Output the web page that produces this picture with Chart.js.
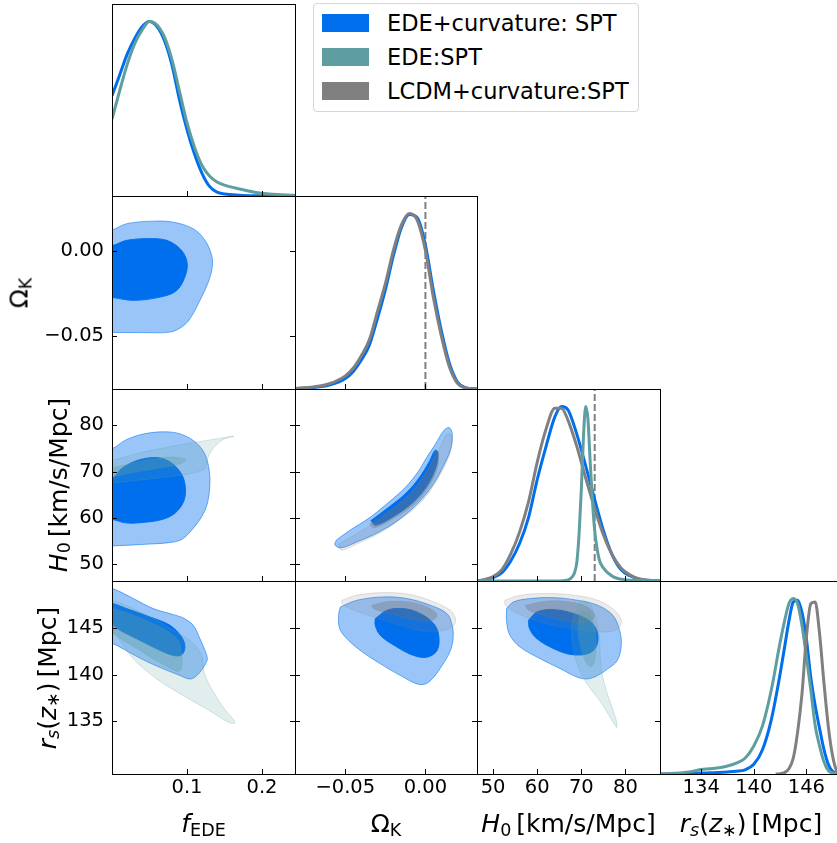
<!DOCTYPE html>
<html>
<head>
<meta charset="utf-8">
<script src="https://cdn.jsdelivr.net/npm/chart.js@4.4.1/dist/chart.umd.min.js"></script>
<style>
  html, body { margin: 0; padding: 0; background: #fff; }
  #fig { position: relative; width: 837px; height: 843px; overflow: hidden; font-family: "DejaVu Sans", sans-serif; color: #000; }
  #fig canvas { position: absolute; }
  .lab { position: absolute; font-size: 25px; line-height: 25px; white-space: nowrap; }
  .lab.x { transform: translateX(-50%); }
  .lab.y { transform: translate(-50%, -50%) rotate(-90deg); }
  .lab i { font-style: italic; }
  .lab sub { font-size: 0.7em; vertical-align: -0.22em; line-height: 0; }
  #legend { position: absolute; left: 313px; top: 3px; width: 326px; height: 109px; border: 1px solid #d6d6d6; border-radius: 4px; box-sizing: border-box; padding-top: 2px; font-size: 22.5px; background: #fff; }
  #legend .entry { height: 34px; display: flex; align-items: center; white-space: nowrap; }
  #legend .patch { display: inline-block; width: 47px; height: 18px; margin-left: 8px; margin-right: 18px; }
</style>
</head>
<body>
<div id="fig"></div>
<script>
// axis ranges and ticks
const FEDE_RANGE = [0, 0.244];
const OMK_RANGE = [-0.0814, 0.0322];
const H0_RANGE = [46.35, 87.85];
const RS_RANGE = [129.3, 150.06];
const PDF_RANGE = [0, 1.1];

const FEDE_TICKS = [0.1, 0.2];
const FEDE_TICK_LABELS = ['0.1', '0.2'];
const OMK_TICKS = [-0.05, 0];
const OMK_TICK_LABELS = ['\u22120.05', '0.00'];
const H0_TICKS = [50, 60, 70, 80];
const H0_TICK_LABELS = ['50', '60', '70', '80'];
const RS_X_TICKS = [134, 140, 146];
const RS_X_TICK_LABELS = ['134', '140', '146'];
const RS_Y_TICKS = [135, 140, 145];
const RS_Y_TICK_LABELS = ['135', '140', '145'];

const SERIES = ['EDE+curvature: SPT', 'EDE:SPT', 'LCDM+curvature:SPT'];
const SERIES_COLORS = ['#006FED', '#5F9EA0', '#808080'];

// reference values marked with dashed lines
const OMK_FLAT = 0;
const H0_SH0ES = 73.04;

// 1D marginals (normalised to peak 1)
const FEDE_GRID = [0, 0.01, 0.02, 0.03, 0.04, 0.05, 0.06, 0.07, 0.08, 0.09, 0.10, 0.11, 0.12, 0.13, 0.14, 0.15, 0.17, 0.19, 0.21, 0.244];
const FEDE_EDE_CURV = [0.574, 0.69, 0.81, 0.90, 0.97, 1.0, 0.97, 0.89, 0.75, 0.55, 0.38, 0.24, 0.13, 0.055, 0.022, 0.012, 0.005, 0.002, 0.001, 0];
const FEDE_EDE = [0.44, 0.60, 0.75, 0.87, 0.95, 1.0, 0.98, 0.91, 0.78, 0.60, 0.42, 0.28, 0.175, 0.115, 0.08, 0.062, 0.04, 0.022, 0.012, 0.004];

const OMK_GRID = [-0.0814, -0.07, -0.06, -0.05, -0.045, -0.04, -0.035, -0.03, -0.025, -0.02, -0.015, -0.01, -0.005, 0, 0.005, 0.01, 0.015, 0.02, 0.025, 0.0322];
const OMK_EDE_CURV = [0.002, 0.008, 0.022, 0.06, 0.1, 0.165, 0.25, 0.40, 0.565, 0.76, 0.92, 0.995, 0.975, 0.82, 0.56, 0.33, 0.145, 0.04, 0.008, 0];
const OMK_LCDM_CURV = [0.003, 0.012, 0.03, 0.075, 0.12, 0.19, 0.28, 0.44, 0.60, 0.79, 0.935, 1.0, 0.96, 0.79, 0.52, 0.30, 0.125, 0.032, 0.006, 0];

const H0_GRID = [46.35, 48, 50, 52, 54, 56, 58, 60, 62, 64, 65.5, 67, 69, 71, 73, 75, 77, 79, 81, 83, 85, 87.85];
const H0_EDE_CURV = [0, 0.006, 0.02, 0.048, 0.115, 0.215, 0.36, 0.58, 0.77, 0.94, 1.0, 0.98, 0.84, 0.66, 0.47, 0.29, 0.15, 0.065, 0.03, 0.012, 0.004, 0];
const H0_LCDM_CURV = [0, 0.008, 0.025, 0.065, 0.155, 0.28, 0.45, 0.68, 0.87, 0.99, 0.99, 0.92, 0.77, 0.59, 0.42, 0.265, 0.15, 0.075, 0.035, 0.013, 0.004, 0];
const H0_EDE_GRID = [46.35, 64, 66, 67, 68, 68.5, 69, 69.5, 70, 70.5, 71, 71.5, 72, 72.5, 73, 74, 75, 77, 80, 87.85];
const H0_EDE = [0, 0, 0.002, 0.006, 0.025, 0.05, 0.11, 0.27, 0.52, 0.83, 1.0, 0.93, 0.69, 0.47, 0.3, 0.13, 0.075, 0.028, 0.007, 0];

const RS_GRID = [129.3, 131, 133, 134, 135, 136, 137, 138, 139, 140, 141, 142, 143, 143.5, 144, 144.5, 145, 145.5, 146, 146.5, 147, 147.5, 148, 148.5, 149, 150.06];
const RS_EDE_CURV = [0, 0.001, 0.004, 0.005, 0.007, 0.009, 0.012, 0.016, 0.024, 0.055, 0.14, 0.31, 0.57, 0.72, 0.87, 0.98, 0.99, 0.92, 0.77, 0.55, 0.39, 0.26, 0.14, 0.055, 0.015, 0];
const RS_EDE = [0, 0.004, 0.015, 0.026, 0.03, 0.036, 0.046, 0.062, 0.09, 0.16, 0.276, 0.48, 0.75, 0.87, 0.97, 1.0, 0.97, 0.845, 0.67, 0.48, 0.276, 0.16, 0.07, 0.02, 0.006, 0];
const RS_LCDM_GRID = [142.5, 143, 143.5, 144, 144.5, 145, 145.5, 146, 146.5, 147, 147.5, 148, 148.5, 149, 149.5, 150.06];
const RS_LCDM_CURV = [0, 0.002, 0.008, 0.03, 0.09, 0.24, 0.46, 0.78, 0.97, 0.98, 0.8, 0.52, 0.27, 0.1, 0.015, 0];

// 2D contours (95% and 68%), [x, y] in parameter units
const FEDE_OMK_EC_95 = [[-0.01, 0.0124], [0.001, 0.0124], [0.0196, 0.0159], [0.0551, 0.0174], [0.0817, 0.0168], [0.1084, 0.0129], [0.124, 0.0061], [0.1329, -0.0028], [0.1337, -0.0096], [0.1284, -0.0185], [0.1173, -0.0292], [0.104, -0.040], [0.0929, -0.0449], [0.0773, -0.0479], [0.0373, -0.0482], [0.001, -0.0481], [-0.01, -0.0481]];
const FEDE_OMK_EC_68 = [[-0.01, 0.0031], [0.001, 0.0031], [0.0196, 0.0061], [0.0507, 0.0071], [0.0729, 0.0061], [0.0907, 0.0012], [0.0996, -0.0057], [0.0987, -0.0135], [0.0863, -0.0234], [0.064, -0.0273], [0.0284, -0.0292], [0.001, -0.0276], [-0.01, -0.0276]];

const FEDE_H0_EC_95 = [[-0.01, 75.0], [0.001, 75.0], [0.0178, 76.79], [0.0444, 78.21], [0.0756, 78.57], [0.0956, 77.86], [0.1133, 76.07], [0.1244, 73.57], [0.1298, 70.0], [0.1302, 66.43], [0.1267, 62.86], [0.12, 60.36], [0.1089, 57.86], [0.0933, 55.36], [0.0756, 54.64], [0.0444, 54.29], [0.001, 53.93], [-0.01, 53.93]];
const FEDE_H0_EC_68 = [[-0.01, 68.57], [0.001, 68.57], [0.0133, 70.71], [0.0356, 72.5], [0.0622, 73.0], [0.08, 71.79], [0.0933, 69.29], [0.0978, 66.43], [0.0956, 63.57], [0.0844, 61.07], [0.0667, 59.64], [0.0356, 58.93], [0.0178, 58.93], [0.001, 59.64], [-0.01, 59.64]];
const FEDE_H0_E_95 = [[-0.01, 72.5], [0.001, 72.5], [0.0444, 74.29], [0.0889, 75.71], [0.1156, 76.43], [0.1622, 77.64], [0.1467, 76.79], [0.1333, 74.64], [0.1267, 72.5], [0.1244, 70.71], [0.1067, 69.64], [0.0667, 68.71], [0.0267, 68.0], [0.001, 67.5], [-0.01, 67.5]];
const FEDE_H0_E_68 = [[-0.01, 70.86], [0.001, 70.86], [0.0356, 72.14], [0.0667, 73.0], [0.0889, 73.07], [0.0987, 72.5], [0.0889, 71.57], [0.0667, 70.86], [0.0356, 70.0], [0.001, 68.93], [-0.01, 68.93]];

const FEDE_RS_EC_95 = [[-0.01, 149.24], [0.001, 149.24], [0.0284, 148.17], [0.0551, 147.09], [0.0818, 146.44], [0.0951, 146.08], [0.1084, 145.29], [0.1173, 143.85], [0.124, 142.59], [0.1271, 141.69], [0.124, 141.04], [0.1173, 140.25], [0.1084, 139.60], [0.1018, 139.53], [0.0907, 139.89], [0.0684, 140.61], [0.0462, 141.40], [0.024, 142.34], [0.001, 143.31], [-0.01, 143.31]];
const FEDE_RS_EC_68 = [[-0.01, 147.63], [0.001, 147.63], [0.0196, 147.09], [0.0507, 146.19], [0.0773, 145.29], [0.0929, 144.03], [0.0973, 142.95], [0.0929, 142.12], [0.0818, 142.05], [0.0596, 142.77], [0.0329, 143.85], [0.0107, 144.75], [0.001, 145.29], [-0.01, 145.29]];
const FEDE_RS_E_95 = [[-0.01, 147.99], [0.001, 147.99], [0.0284, 147.09], [0.0596, 145.83], [0.0862, 144.57], [0.1062, 143.49], [0.1196, 142.05], [0.1227, 140.25], [0.1329, 138.45], [0.1484, 136.47], [0.164, 134.86], [0.1573, 134.78], [0.1262, 136.29], [0.0951, 137.73], [0.0596, 139.53], [0.0284, 141.69], [0.001, 144.57], [-0.01, 144.57]];
const FEDE_RS_E_68 = [[-0.01, 147.09], [0.001, 147.09], [0.0284, 146.37], [0.0596, 145.29], [0.0818, 144.21], [0.0907, 143.31], [0.0907, 140.43], [0.064, 141.26], [0.0373, 142.59], [0.0151, 143.67], [0.001, 144.39], [-0.01, 144.39]];

const OMK_H0_EC_95 = [[-0.0556, 55.2], [-0.0472, 57.3], [-0.0350, 60.0], [-0.0228, 63.4], [-0.0125, 66.6], [-0.0045, 70.0], [0.0005, 72.9], [0.0062, 75.9], [0.0115, 78.9], [0.0150, 79.5], [0.0168, 78.0], [0.0158, 74.9], [0.0118, 71.6], [0.0048, 67.2], [-0.0040, 63.4], [-0.0165, 59.6], [-0.0292, 56.9], [-0.0420, 54.9], [-0.0528, 53.5], [-0.0565, 54.2]];
const OMK_H0_EC_68 = [[-0.0340, 59.4], [-0.0225, 62.4], [-0.0122, 65.3], [-0.0040, 68.6], [0.0025, 72.2], [0.0060, 74.6], [0.0078, 74.2], [0.0068, 71.2], [0.0015, 67.2], [-0.0070, 63.6], [-0.0185, 60.6], [-0.0310, 58.4]];
const OMK_H0_LC_95 = [[-0.0540, 54.3], [-0.0432, 56.5], [-0.0306, 59.2], [-0.0180, 62.6], [-0.0078, 66.0], [0.0005, 69.8], [0.0068, 73.6], [0.0112, 76.7], [0.0135, 78.1], [0.0160, 77.9], [0.0162, 75.1], [0.0122, 71.3], [0.0050, 66.9], [-0.0035, 63.1], [-0.0160, 59.6], [-0.0286, 56.7], [-0.0412, 54.6], [-0.0522, 53.0]];
const OMK_H0_LC_68 = [[-0.0350, 58.7], [-0.0225, 61.6], [-0.0110, 64.6], [-0.0028, 68.0], [0.0038, 71.9], [0.0066, 74.5], [0.0082, 74.0], [0.0074, 70.6], [0.0018, 66.6], [-0.0065, 63.1], [-0.0192, 60.0], [-0.0318, 57.8]];

const OMK_RS_EC_95 = [[-0.0531, 147.27], [-0.0427, 147.99], [-0.026, 148.35], [-0.0115, 148.17], [0.0031, 147.45], [0.0135, 146.55], [0.0167, 145.29], [0.0173, 143.85], [0.0152, 142.41], [0.0104, 140.97], [0.0052, 139.71], [0.0, 138.99], [-0.0052, 138.99], [-0.0156, 139.89], [-0.0281, 141.15], [-0.0406, 142.59], [-0.049, 143.85], [-0.0535, 144.93], [-0.0542, 146.37]];
const OMK_RS_EC_68 = [[-0.0313, 146.01], [-0.024, 146.91], [-0.0135, 147.09], [-0.0031, 146.55], [0.0052, 145.47], [0.0083, 144.21], [0.0073, 142.59], [0.001, 141.87], [-0.0073, 142.05], [-0.0177, 142.95], [-0.0281, 144.21], [-0.0313, 145.29]];
const OMK_RS_LC_95 = [[-0.0521, 147.99], [-0.0427, 148.53], [-0.026, 148.81], [-0.0094, 148.6], [0.0052, 147.81], [0.0156, 146.91], [0.0188, 146.01], [0.0177, 145.29], [0.0115, 144.75], [-0.001, 144.64], [-0.0156, 145.29], [-0.0323, 146.19], [-0.0469, 147.09], [-0.0521, 147.63]];
const OMK_RS_LC_68 = [[-0.0333, 147.45], [-0.0219, 147.88], [-0.0073, 147.73], [0.0031, 147.09], [0.0073, 146.37], [0.0042, 145.83], [-0.0052, 145.83], [-0.0177, 146.37], [-0.0302, 146.91], [-0.0333, 147.27]];

const H0_RS_EC_95 = [[53.06, 147.09], [54.59, 147.81], [58.42, 148.17], [63.77, 148.27], [69.13, 147.99], [73.72, 147.45], [77.16, 146.37], [78.69, 144.75], [79.07, 143.13], [78.16, 141.51], [76.01, 140.61], [73.72, 139.89], [71.42, 139.53], [69.13, 139.71], [65.3, 140.61], [60.71, 141.69], [56.12, 142.95], [53.83, 144.21], [53.06, 145.65]];
const H0_RS_EC_68 = [[58.03, 145.83], [59.95, 146.73], [63.77, 146.98], [68.36, 146.55], [72.19, 145.65], [73.72, 144.39], [73.34, 142.95], [71.42, 142.23], [67.6, 142.16], [63.77, 142.77], [59.95, 143.85], [58.26, 144.93]];
const H0_RS_LC_95 = [[52.68, 147.99], [56.12, 148.53], [62.24, 148.71], [68.36, 148.53], [73.72, 147.99], [77.54, 146.91], [79.07, 145.83], [78.31, 144.93], [75.25, 144.57], [69.89, 144.75], [63.77, 145.29], [58.42, 146.01], [54.21, 146.91], [52.68, 147.55]];
const H0_RS_LC_68 = [[57.27, 147.45], [62.24, 147.91], [67.6, 147.81], [71.42, 147.27], [72.95, 146.37], [71.81, 145.65], [67.6, 145.65], [62.24, 146.26], [58.03, 146.91]];
const H0_RS_E_95 = [[69.84, 147.88], [67.94, 145.65], [68.31, 142.41], [70.59, 139.54], [74.42, 137.02], [77.46, 134.69], [78.08, 134.32], [77.85, 135.23], [75.56, 138.46], [74.42, 140.98], [74.03, 144.21], [72.52, 147.09], [70.98, 147.88]];
const H0_RS_E_68 = [[69.89, 146.73], [71.81, 146.55], [72.95, 145.11], [73.34, 142.95], [72.95, 141.33], [72.19, 140.86], [71.04, 141.33], [69.89, 142.95], [69.28, 145.11]];

// page layout (px)
const X_EDGES = [112, 295, 477, 660, 842];
const Y_EDGES = [4, 196, 389, 581, 774];
const Y_LABEL_W = 112;
const X_LABEL_H = 68;
const TICK_LEN = 5;
const TICK_FONT = 19.5;

const PARAMS = [
  {range: FEDE_RANGE, xTicks: FEDE_TICKS, xLabels: FEDE_TICK_LABELS},
  {range: OMK_RANGE, xTicks: OMK_TICKS, xLabels: OMK_TICK_LABELS, yTicks: OMK_TICKS, yLabels: OMK_TICK_LABELS},
  {range: H0_RANGE, xTicks: H0_TICKS, xLabels: H0_TICK_LABELS, yTicks: H0_TICKS, yLabels: H0_TICK_LABELS},
  {range: RS_RANGE, xTicks: RS_X_TICKS, xLabels: RS_X_TICK_LABELS, yTicks: RS_Y_TICKS, yLabels: RS_Y_TICK_LABELS}
];

const AXIS_TITLES = [
  '<i>f</i><sub>EDE</sub>',
  '\u03a9<sub>K</sub>',
  '<i>H</i><sub>0</sub>\u2009[km/s/Mpc]',
  '<i>r</i><sub><i>s</i></sub>(<i>z</i><sub>\u2217</sub>)\u2009[Mpc]'
];
// baseline-adjusted centres of the rotated row titles
const Y_TITLE_X = [null, 19.4, 58.4, 47.1];
const X_TITLE_TOP = 811;

// contour fill styles per series: outer (95%), inner (68%), edge
const FILLS = [
  {outer: 'rgba(0,111,237,0.4)', inner: '#006FED', edge: 'rgba(0,111,237,0.55)'},
  {outer: 'rgba(95,158,160,0.18)', inner: 'rgba(95,158,160,0.35)', edge: 'rgba(95,158,160,0.25)'},
  {outer: 'rgba(128,128,128,0.16)', inner: 'rgba(110,110,110,0.32)', edge: 'rgba(128,128,128,0.22)'}
];

const PANELS = [
  {row: 0, col: 0, lines: [[FEDE_GRID, FEDE_EDE_CURV, 0], [FEDE_GRID, FEDE_EDE, 1]]},
  {row: 1, col: 1, ref: OMK_FLAT, lines: [[OMK_GRID, OMK_EDE_CURV, 0], [OMK_GRID, OMK_LCDM_CURV, 2]]},
  {row: 2, col: 2, ref: H0_SH0ES, lines: [[H0_GRID, H0_EDE_CURV, 0], [H0_GRID, H0_LCDM_CURV, 2], [H0_EDE_GRID, H0_EDE, 1]]},
  {row: 3, col: 3, lines: [[RS_GRID, RS_EDE_CURV, 0], [RS_GRID, RS_EDE, 1], [RS_LCDM_GRID, RS_LCDM_CURV, 2]]},
  {row: 1, col: 0, contours: [[FEDE_OMK_EC_95, FEDE_OMK_EC_68, 0]]},
  {row: 2, col: 0, contours: [[FEDE_H0_EC_95, FEDE_H0_EC_68, 0], [FEDE_H0_E_95, FEDE_H0_E_68, 1]]},
  {row: 3, col: 0, contours: [[FEDE_RS_EC_95, FEDE_RS_EC_68, 0], [FEDE_RS_E_95, FEDE_RS_E_68, 1]]},
  {row: 2, col: 1, contours: [[OMK_H0_EC_95, OMK_H0_EC_68, 0], [OMK_H0_LC_95, OMK_H0_LC_68, 2]]},
  {row: 3, col: 1, contours: [[OMK_RS_EC_95, OMK_RS_EC_68, 0], [OMK_RS_LC_95, OMK_RS_LC_68, 2]]},
  {row: 3, col: 2, contours: [[H0_RS_EC_95, H0_RS_EC_68, 0], [H0_RS_LC_95, H0_RS_LC_68, 2], [H0_RS_E_95, H0_RS_E_68, 1]]}
];

const fig = document.getElementById('fig');

// frame plus inward tick marks on the panel
const frameTicks = {
  id: 'frameTicks',
  afterDraw(chart, args, opts) {
    const {ctx, chartArea: a, scales: {x, y}} = chart;
    ctx.save();
    ctx.strokeStyle = '#000';
    ctx.lineWidth = 1;
    ctx.beginPath();
    opts.xTicks.forEach(v => {
      const px = Math.round(x.getPixelForValue(v)) + 0.5;
      ctx.moveTo(px, a.bottom);
      ctx.lineTo(px, a.bottom - TICK_LEN);
    });
    (opts.yTicks || []).forEach(v => {
      const py = Math.round(y.getPixelForValue(v)) + 0.5;
      ctx.moveTo(a.left, py);
      ctx.lineTo(a.left + TICK_LEN, py);
      ctx.moveTo(a.right, py);
      ctx.lineTo(a.right - TICK_LEN, py);
    });
    ctx.stroke();
    ctx.strokeRect(a.left + 0.5, a.top + 0.5, a.right - a.left, a.bottom - a.top);
    ctx.restore();
  }
};

function tickLabel(values, labels, v) {
  const i = values.findIndex(t => Math.abs(t - v) < 1e-9);
  return i < 0 ? '' : labels[i];
}

function curveSet(grid, values, series) {
  return {
    data: grid.map((x, i) => ({x, y: values[i]})),
    borderColor: SERIES_COLORS[series], borderWidth: 3, fill: false,
    cubicInterpolationMode: 'monotone'
  };
}

function contourSet(points, fill, edge) {
  const data = points.map(([x, y]) => ({x, y}));
  data.push({...data[0]});
  return {data, backgroundColor: fill, borderColor: edge, borderWidth: 1, fill: 'shape', tension: 0.35, clip: 0};
}

function refLine(value) {
  return {
    data: [{x: value, y: PDF_RANGE[0]}, {x: value, y: PDF_RANGE[1]}],
    borderColor: '#808080', borderWidth: 2, borderDash: [7, 3], fill: false
  };
}

function buildDatasets(p) {
  const sets = [];
  if (p.ref !== undefined) sets.push(refLine(p.ref));
  (p.lines || []).forEach(([grid, values, s]) => sets.push(curveSet(grid, values, s)));
  (p.contours || []).forEach(([outer, inner, s]) => {
    const f = FILLS[s];
    sets.push(contourSet(outer, f.outer, f.edge));
    sets.push(contourSet(inner, f.inner, s === 0 ? f.inner : f.edge));
  });
  // later entries are drawn on top
  sets.forEach((d, i) => { d.order = -i; });
  return sets;
}

function makePanel(p) {
  const diag = p.row === p.col;
  const xp = PARAMS[p.col];
  const yp = diag ? null : PARAMS[p.row];
  const left = (p.col === 0 && !diag) ? Y_LABEL_W : 0;
  const bottom = p.row === 3 ? X_LABEL_H : 0;
  const w = X_EDGES[p.col + 1] - X_EDGES[p.col];
  const h = Y_EDGES[p.row + 1] - Y_EDGES[p.row];

  const canvas = document.createElement('canvas');
  canvas.width = left + w + 1;
  canvas.height = h + bottom + 1;
  canvas.style.width = canvas.width + 'px';
  canvas.style.height = canvas.height + 'px';
  canvas.style.left = (X_EDGES[p.col] - left) + 'px';
  canvas.style.top = Y_EDGES[p.row] + 'px';
  fig.appendChild(canvas);

  new Chart(canvas, {
    type: 'line',
    data: {datasets: buildDatasets(p)},
    options: {
      responsive: false,
      animation: false,
      devicePixelRatio: 1,
      events: [],
      layout: {padding: {left: 0, top: 0, right: 1, bottom: 1}},
      elements: {point: {radius: 0}},
      plugins: {legend: {display: false}, tooltip: {enabled: false}, frameTicks: {xTicks: xp.xTicks, yTicks: yp ? yp.yTicks : null}},
      scales: {
        x: {
          type: 'linear', min: xp.range[0], max: xp.range[1],
          display: bottom > 0,
          grid: {display: false, drawTicks: false},
          border: {display: false},
          ticks: {font: {size: TICK_FONT}, color: '#000', padding: 2, maxRotation: 0, minRotation: 0, autoSkip: false,
                  callback: v => tickLabel(xp.xTicks, xp.xLabels, v)},
          afterBuildTicks: s => { s.ticks = xp.xTicks.map(value => ({value})); },
          afterFit: s => { s.height = bottom; s.paddingLeft = 0; s.paddingRight = 0; }
        },
        y: {
          type: 'linear', min: yp ? yp.range[0] : PDF_RANGE[0], max: yp ? yp.range[1] : PDF_RANGE[1],
          display: left > 0,
          grid: {display: false, drawTicks: false},
          border: {display: false},
          ticks: {font: {size: TICK_FONT}, color: '#000', padding: 8, autoSkip: false,
                  callback: v => yp ? tickLabel(yp.yTicks, yp.yLabels, v) : ''},
          afterBuildTicks: s => { s.ticks = (yp ? yp.yTicks : []).map(value => ({value})); },
          afterFit: s => { s.width = left; s.paddingTop = 0; s.paddingBottom = 0; }
        }
      }
    },
    plugins: [frameTicks]
  });
}

Chart.defaults.font.family = '"DejaVu Sans", sans-serif';
PANELS.forEach(makePanel);

// axis titles
AXIS_TITLES.forEach((html, i) => {
  const xl = document.createElement('div');
  xl.className = 'lab x';
  xl.innerHTML = html;
  xl.style.left = ((X_EDGES[i] + X_EDGES[i + 1]) / 2) + 'px';
  xl.style.top = X_TITLE_TOP + 'px';
  fig.appendChild(xl);
  if (i > 0) {
    const yl = document.createElement('div');
    yl.className = 'lab y';
    yl.innerHTML = html;
    yl.style.left = Y_TITLE_X[i] + 'px';
    yl.style.top = ((Y_EDGES[i] + Y_EDGES[i + 1]) / 2) + 'px';
    fig.appendChild(yl);
  }
});

// legend
const legend = document.createElement('div');
legend.id = 'legend';
SERIES.forEach((name, i) => {
  const entry = document.createElement('div');
  entry.className = 'entry';
  const patch = document.createElement('span');
  patch.className = 'patch';
  patch.style.background = SERIES_COLORS[i];
  entry.append(patch, name);
  legend.appendChild(entry);
});
fig.appendChild(legend);
</script>
</body>
</html>
